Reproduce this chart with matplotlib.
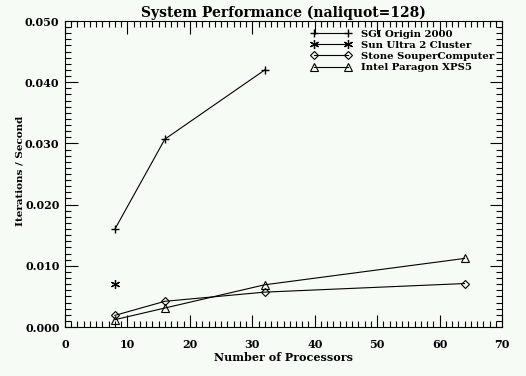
import matplotlib
matplotlib.use("Agg")
import matplotlib.pyplot as plt
from matplotlib.ticker import MultipleLocator, FormatStrFormatter

sgi_x = [8, 16, 32]
sgi_y = [0.0160, 0.0307, 0.0420]
sun_x = [8]
sun_y = [0.0071]
stone_x = [8, 16, 32, 64]
stone_y = [0.0019, 0.0042, 0.0057, 0.0071]
intel_x = [8, 16, 32, 64]
intel_y = [0.0012, 0.0031, 0.0069, 0.0112]
labels = ["SGI Origin 2000", "Sun Ultra 2 Cluster", "Stone SouperComputer", "Intel Paragon XPS5"]

bg = "#f6fbf6"
plt.rcParams['font.family'] = ['DejaVu Serif']
plt.rcParams['font.weight'] = 'bold'

fig = plt.figure(figsize=(5.26, 3.76), dpi=100, facecolor=bg)
ax = fig.add_axes([65/526, 1-327/376, (502-65)/526, (327-21)/376])
ax.set_facecolor(bg)

lw = 0.8
ax.plot(sgi_x, sgi_y, color='black', lw=lw, marker='+', ms=6, mew=1.0, label=labels[0])
ax.plot(sun_x, sun_y, color='black', lw=lw, marker=(6, 2, 0), ms=6.5, mew=0.9, label=labels[1])
ax.plot(stone_x, stone_y, color='black', lw=lw, marker='D', ms=4, mew=0.8, mfc='none', label=labels[2])
ax.plot(intel_x, intel_y, color='black', lw=lw, marker='^', ms=5.5, mew=0.8, mfc='none', label=labels[3])

ax.set_xlim(0, 70)
ax.set_ylim(0, 0.050)
ax.xaxis.set_major_locator(MultipleLocator(10))
ax.xaxis.set_minor_locator(MultipleLocator(1))
ax.yaxis.set_major_locator(MultipleLocator(0.010))
ax.yaxis.set_minor_locator(MultipleLocator(0.001))
ax.yaxis.set_major_formatter(FormatStrFormatter('%.3f'))
ax.tick_params(which='both', direction='in', top=True, right=True, labelsize=8, width=0.8)
ax.tick_params(which='major', length=9)
ax.tick_params(which='minor', length=4)
ax.tick_params(axis='x', which='major', pad=9)
ax.tick_params(axis='y', which='major', pad=4)
for lab in ax.get_xticklabels() + ax.get_yticklabels():
    lab.set_fontweight('bold')
for s in ax.spines.values():
    s.set_linewidth(0.8)

ax.set_title("System Performance (naliquot=128)", fontsize=10, fontweight='bold', pad=3)
ax.set_xlabel("Number of Processors", fontsize=8, fontweight='bold', labelpad=1)
ax.set_ylabel("Iterations / Second", fontsize=7.5, fontweight='bold', labelpad=1)
ax.yaxis.set_label_coords(-0.093, 0.51)

leg = ax.legend(loc='upper right', frameon=False, fontsize=7.3, numpoints=2,
                handlelength=3.9, handletextpad=1.0, labelspacing=0.2,
                bbox_to_anchor=(0.998, 0.995), borderaxespad=0.3)
for t in leg.get_texts():
    t.set_fontweight('bold')

fig.savefig("out.png", dpi=100, facecolor=bg)
